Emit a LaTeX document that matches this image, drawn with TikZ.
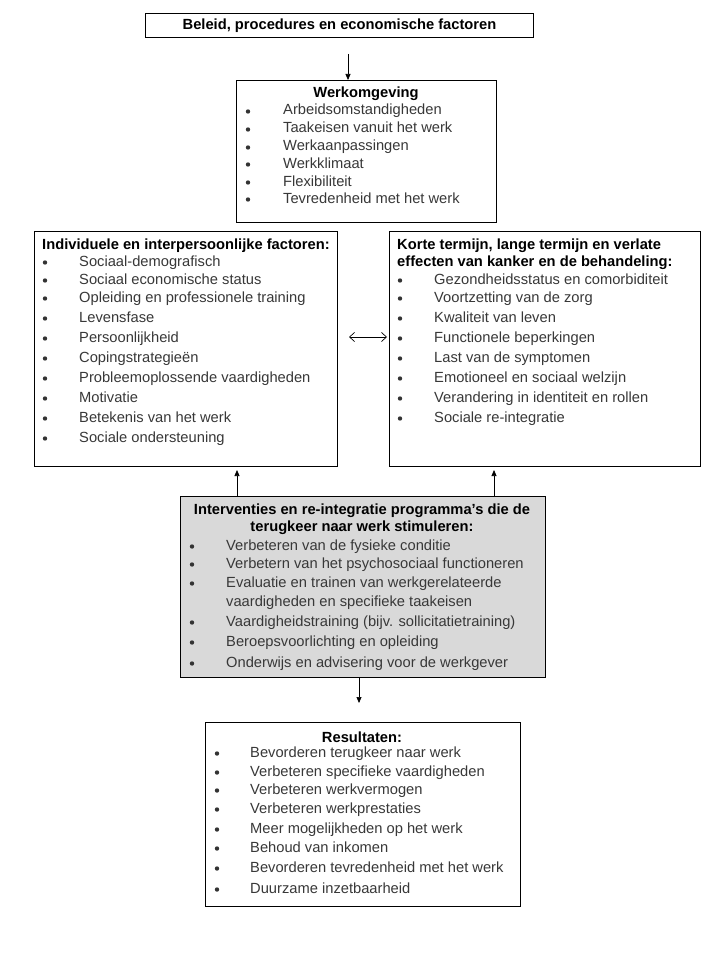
\documentclass[tikz,border=0pt]{standalone}
\usepackage{fontspec}
\setmainfont{Liberation Sans}
\usetikzlibrary{arrows.meta}
\begin{document}
\begin{tikzpicture}[x=1pt,y=-1pt,
  box/.style={draw,line width=1pt,inner sep=0pt,anchor=north west},
  itm/.style={anchor=base west,inner sep=0pt,text=black!78,font=\fontsize{14.7}{17}\selectfont},
  ttl/.style={anchor=base,inner sep=0pt,font=\fontsize{14.7}{17}\selectfont\bfseries},
  bul/.style={circle,fill=black!80,inner sep=0pt,minimum size=4.4pt},
  arr/.style={-{Triangle[length=6pt,width=5pt]},line width=0.7pt},
  dbl/.style={{Straight Barb[length=5pt,width=9pt]}-{Straight Barb[length=5pt,width=9pt]},line width=0.7pt}]
\useasboundingbox (0,0) rectangle (720,960);
\fill[white] (0,0) rectangle (720,960);

% boxes
\node[box,minimum width=388pt,minimum height=24pt,anchor=north west,font=\fontsize{14.7}{17}\selectfont\bfseries] (beleid) at (145,13) {Beleid, procedures en economische factoren};
\node[box,minimum width=260pt,minimum height=142pt] (werk) at (236,80) {};
\node[box,minimum width=303pt,minimum height=235pt] (left) at (34,231) {};
\node[box,minimum width=311pt,minimum height=235pt] (right) at (389,231) {};
\node[box,minimum width=365pt,minimum height=181pt,fill=black!15] (mid) at (180,496) {};
\node[box,minimum width=315pt,minimum height=184pt] (res) at (205,722) {};

% Werkomgeving
\node[ttl] (werkt) at (366,98) {Werkomgeving};
\foreach \y/\t [count=\i] in {110/Arbeidsomstandigheden,128/Taakeisen vanuit het werk,146/Werkaanpassingen,163/Werkklimaat,181/Flexibiliteit,198/Tevredenheid met het werk}{
  \node[bul] (wb\i) at (248,\y+1.5) {};
  \node[itm] (wi\i) at (283,\y+5) {\t};
}

% Left
\node[ttl,anchor=base west] (leftt) at (42,249) {Individuele en interpersoonlijke factoren:};
\foreach \y/\t [count=\i] in {261/Sociaal-demografisch,279/Sociaal economische status,297/Opleiding en professionele training,317/Levensfase,337/Persoonlijkheid,357/Copingstrategieën,377/Probleemoplossende vaardigheden,397/Motivatie,417/Betekenis van het werk,437/Sociale ondersteuning}{
  \node[bul] (lb\i) at (45,\y+1.5) {};
  \node[itm] (li\i) at (79,\y+5) {\t};
}

% Right
\node[ttl,anchor=base west] (rightt1) at (397,249) {Korte termijn, lange termijn en verlate};
\node[ttl,anchor=base west] (rightt2) at (397,266) {effecten van kanker en de behandeling:};
\foreach \y/\t [count=\i] in {279/Gezondheidsstatus en comorbiditeit,297/Voortzetting van de zorg,317/Kwaliteit van leven,337/Functionele beperkingen,357/Last van de symptomen,377/Emotioneel en sociaal welzijn,397/Verandering in identiteit en rollen,417/Sociale re-integratie}{
  \node[bul] (rb\i) at (400,\y+1.5) {};
  \node[itm] (ri\i) at (434,\y+5) {\t};
}

% Middle
\node[ttl] (midt1) at (362,514) {Interventies en re-integratie programma’s die de};
\node[ttl] (midt2) at (362,531) {terugkeer naar werk stimuleren:};
\foreach \y/\t [count=\i] in {545/Verbeteren van de fysieke conditie,563/Verbetern van het psychosociaal functioneren,582/Evaluatie en trainen van werkgerelateerde,621/Vaardigheidstraining (bijv. sollicitatietraining),641/Beroepsvoorlichting en opleiding,662/Onderwijs en advisering voor de werkgever}{
  \node[bul] (mb\i) at (192,\y+1.5) {};
  \node[itm] (mi\i) at (226,\y+5) {\t};
}
\node[itm] (mcont) at (226,606) {vaardigheden en specifieke taakeisen};

% Results
\node[ttl] (rest) at (362,742) {Resultaten:};
\foreach \y/\t [count=\i] in {752/Bevorderen terugkeer naar werk,771/Verbeteren specifieke vaardigheden,789/Verbeteren werkvermogen,808/Verbeteren werkprestaties,828/Meer mogelijkheden op het werk,847/Behoud van inkomen,867/Bevorderen tevredenheid met het werk,888/Duurzame inzetbaarheid}{
  \node[bul] (sb\i) at (217,\y+1.5) {};
  \node[itm] (si\i) at (250,\y+5) {\t};
}

% connectors
\coordinate (a1) at (348,0);
\coordinate (a2) at (237,0);
\coordinate (a3) at (494,0);
\coordinate (a4) at (0,337);
\coordinate (a5) at (359,0);
\draw[arr,shorten <=16pt] (beleid.south -| a1) -- (werk.north -| a1);
\draw[arr,shorten >=3pt] (mid.north -| a2) -- (left.south -| a2);
\draw[arr,shorten >=3pt] (mid.north -| a3) -- (right.south -| a3);
\draw[dbl,shorten <=11pt,shorten >=2pt] (left.east |- a4) -- (right.west |- a4);
\draw[arr,shorten >=19pt] (mid.south -| a5) -- (res.north -| a5);
\end{tikzpicture}
\end{document}
